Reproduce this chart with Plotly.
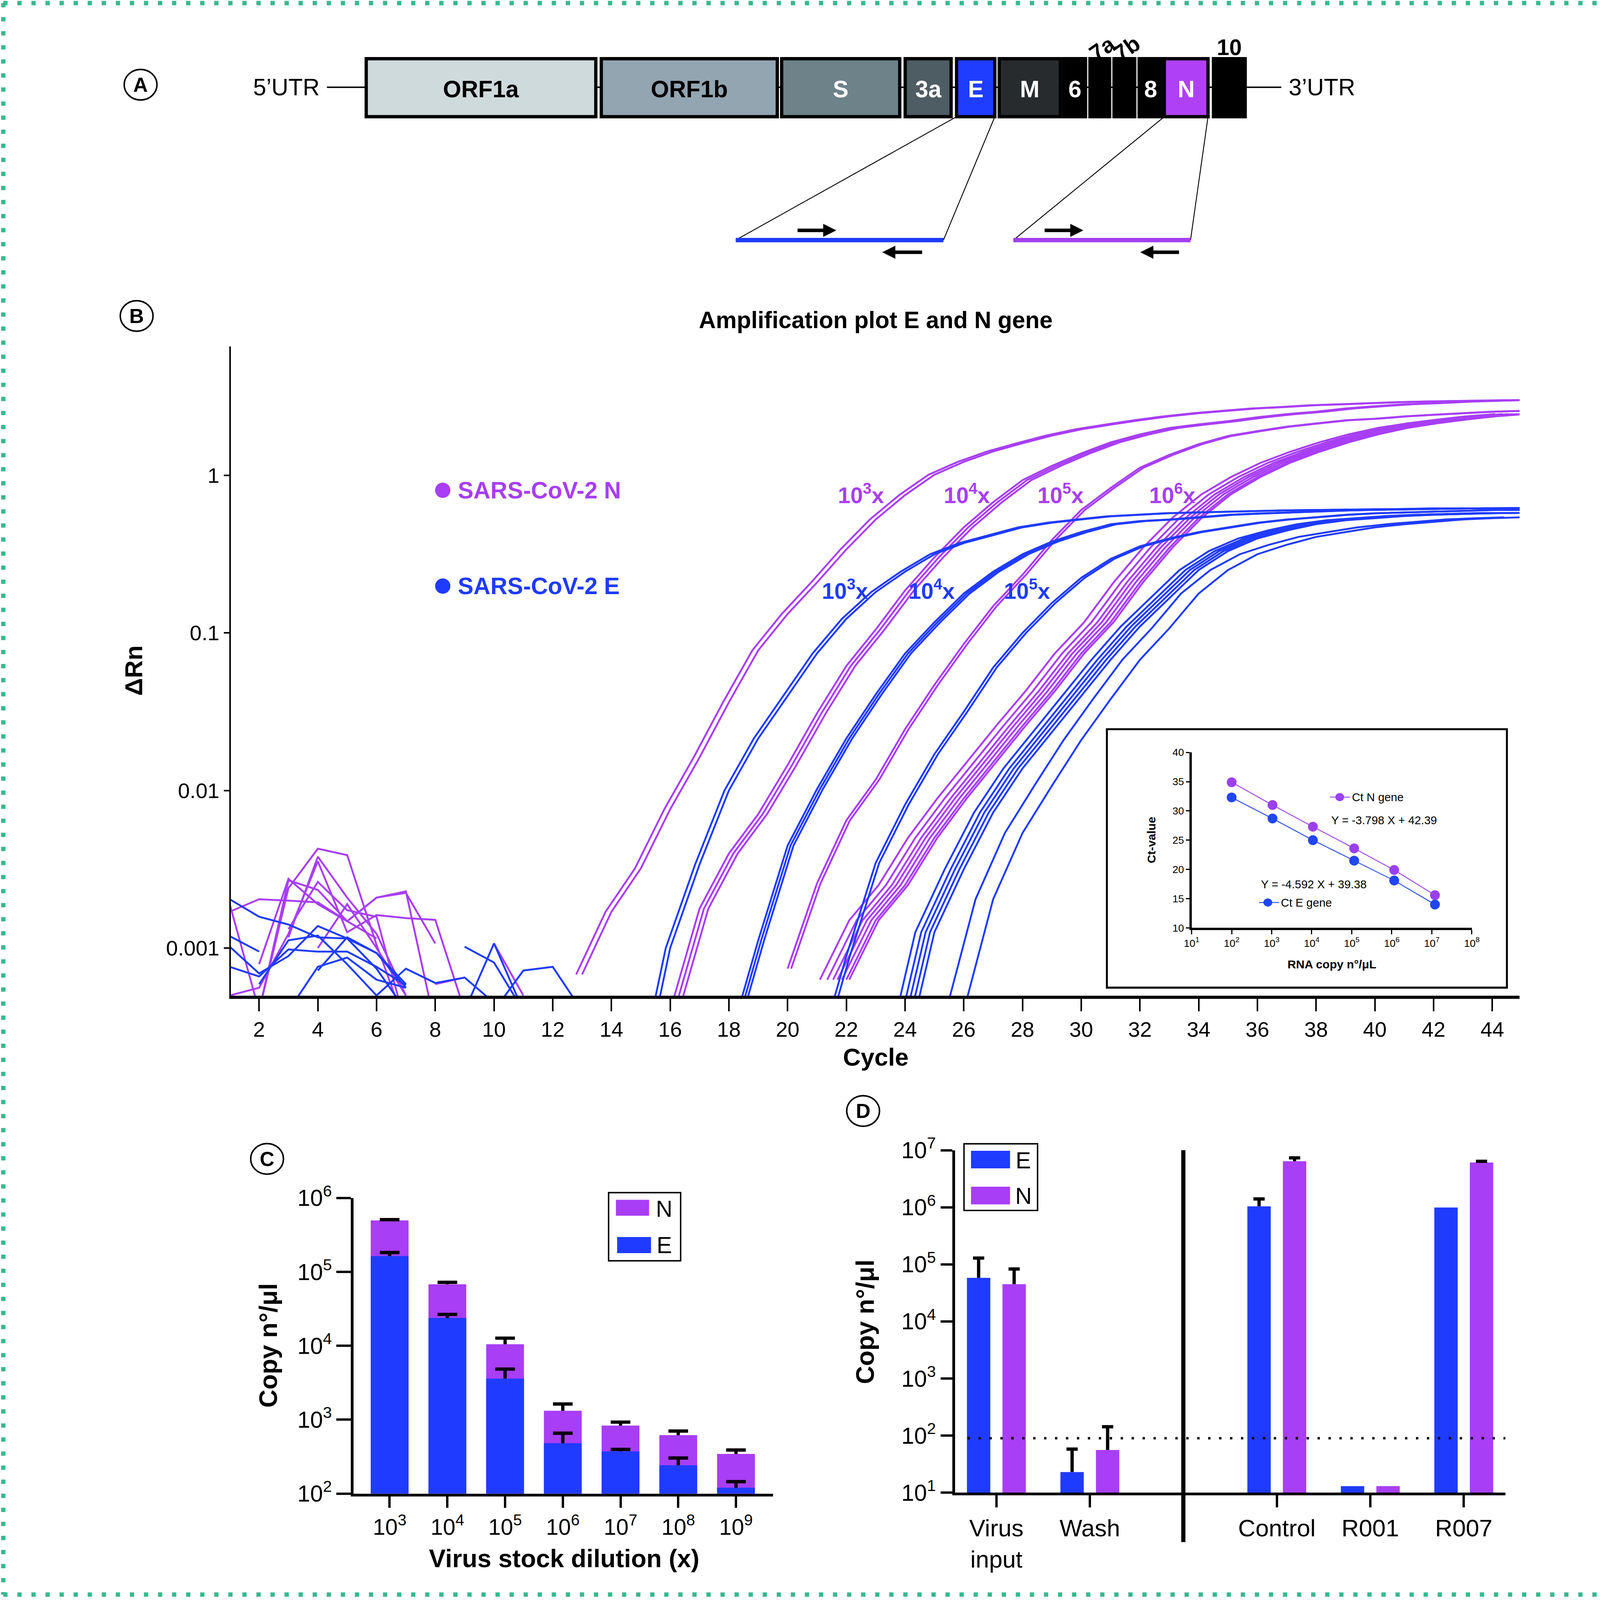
import math
import plotly.graph_objects as go

# Figure width matches the reference; the height is fitted to the visible browser viewport
W = 4198
H_FIG = 4090
K = W / 1500.0          # reference display px -> figure px (horizontal, fonts, widths)
HD = 1567.5             # reference display height in display px
KV = H_FIG / HD         # vertical display px -> figure px


def px(x):
    return x / 1500.0


def py(y):
    return 1.0 - y / HD


def s(v):
    return v * K


FONT = 'Liberation Sans'
PURPLE = '#a83ef5'
BLUE = '#1f3bff'
INSET_N = '#9b40f0'
INSET_E = '#2146f2'
GREEN = '#38b98d'

# ---------------- Panel A : genome map (schematic units) ----------------
gene_names = ['ORF1a', 'ORF1b', 'S', '3a', 'E', 'M', '6', '7a', '7b', '8', 'N', '10']
gene_start = [0.0, 21.5, 38.0, 49.3, 54.0, 57.9, 63.8, 66.2, 68.4, 70.7, 73.0, 77.5]
gene_end = [21.0, 37.6, 48.8, 53.5, 57.5, 63.5, 65.8, 68.0, 70.3, 72.8, 77.0, 80.4]
gene_fill = ['#cfdadc', '#93a5b1', '#6e828a', '#4e5c63', '#1f3dff', '#272b2d',
             '#000000', '#000000', '#000000', '#000000', '#b040f5', '#000000']
gene_label_color = ['black', 'black', 'white', 'white', 'white', 'white', 'white',
                    'black', 'black', 'white', 'white', 'black']
gene_label_above = [False, False, False, False, False, False, False, True, True, False, False, True]
genome_span = [-3.6, 83.7]
amplicon_E = [33.8, 52.8]
amplicon_N = [59.2, 75.4]
primer_E_fwd = [39.4, 43.0]
primer_E_rev = [50.9, 47.2]
primer_N_fwd = [62.0, 65.6]
primer_N_rev = [74.4, 70.8]

# ---------------- Panel B : amplification curves (ΔRn per cycle) ----------------
cycle_ticks = list(range(2, 45, 2))
rn_ticks = [0.001, 0.01, 0.1, 1]

N_1e3_start = 13
N_1e3 = [0.00068, 0.0017, 0.0032, 0.0076, 0.0162, 0.0363, 0.0776, 0.132, 0.209, 0.339, 0.525,
         0.750, 1.01, 1.22, 1.42, 1.60, 1.79, 1.96, 2.10, 2.24, 2.37, 2.48, 2.57, 2.66, 2.72,
         2.79, 2.83, 2.88, 2.92, 2.95, 2.97, 2.99, 3.01]
N_1e3_shift = [0.0, -0.2]

N_1e4_start = 16
N_1e4 = [0.0004, 0.00178, 0.00398, 0.00708, 0.0145, 0.0309, 0.0617, 0.105, 0.186, 0.302, 0.468,
         0.676, 0.933, 1.15, 1.38, 1.62, 1.82, 2.00, 2.11, 2.21, 2.34, 2.45, 2.54, 2.66, 2.75,
         2.83, 2.88, 2.94, 2.98, 3.01]
N_1e4_shift = [0.0, 0.15, 0.3]

N_1e5_start = 20
N_1e5 = [0.00074, 0.00257, 0.00646, 0.0117, 0.0245, 0.0468, 0.0851, 0.148, 0.234, 0.389, 0.603,
         0.832, 1.12, 1.35, 1.58, 1.78, 1.91, 2.04, 2.14, 2.24, 2.29, 2.37, 2.43, 2.48, 2.54, 2.57]
N_1e5_shift = [0.0, 0.12]

N_1e6_start = 22
N_1e6 = [0.00063, 0.0015, 0.00251, 0.00501, 0.00891, 0.0151, 0.0257, 0.0427, 0.0741, 0.117,
         0.209, 0.347, 0.537, 0.759, 0.977, 1.20, 1.41, 1.62, 1.82, 2.00, 2.14, 2.26, 2.37, 2.45]
N_1e6_shift = [-0.9, -0.65, -0.45, -0.3, -0.15, 0.0, 0.1]

E_1e3_start = 15
E_1e3 = [0.00013, 0.001, 0.00339, 0.01, 0.0214, 0.0398, 0.0741, 0.123, 0.182, 0.245, 0.316,
         0.372, 0.417, 0.468, 0.501, 0.525, 0.550, 0.562, 0.575, 0.582, 0.589, 0.596, 0.600,
         0.603, 0.605, 0.610, 0.612, 0.617, 0.617, 0.617, 0.617]
E_1e3_shift = [0.0, -0.15]

E_1e4_start = 18
E_1e4 = [0.00025, 0.00112, 0.00447, 0.0102, 0.0214, 0.0407, 0.0741, 0.117, 0.178, 0.245, 0.316,
         0.380, 0.437, 0.490, 0.513, 0.525, 0.543, 0.562, 0.573, 0.582, 0.592, 0.600, 0.605,
         0.610, 0.614, 0.617, 0.619, 0.621]
E_1e4_shift = [0.0, 0.1, 0.2]

E_1e5_start = 21
E_1e5 = [0.0002, 0.00089, 0.00347, 0.00813, 0.017, 0.0316, 0.0603, 0.1, 0.155, 0.224, 0.295,
         0.355, 0.398, 0.437, 0.468, 0.501, 0.525, 0.543, 0.562, 0.575, 0.582, 0.589, 0.596,
         0.603, 0.603]
E_1e5_shift = [0.0, 0.12]

E_1e6_start = 24
E_1e6 = [0.0002, 0.00126, 0.00316, 0.00724, 0.0138, 0.0234, 0.0398, 0.0676, 0.110, 0.166, 0.251,
         0.331, 0.398, 0.447, 0.490, 0.519, 0.537, 0.552, 0.562, 0.569, 0.575, 0.578]
E_1e6_shift = [-0.65, -0.45, -0.3, -0.15, 0.0]

E_1e7_start = 25
E_1e7 = [0.0001, 0.0004, 0.00204, 0.00537, 0.0107, 0.0209, 0.038, 0.0676, 0.107, 0.178, 0.251,
         0.316, 0.363, 0.407, 0.437, 0.468, 0.490, 0.507, 0.525, 0.535, 0.542]
E_1e7_shift = [-0.6, 0.0]

# baseline noise (start cycle, ΔRn values)
N_noise = [
    (1, [0.0017, 0.00204, 0.002, 0.00195, 0.00148, 0.00209, 0.00224, 0.00107]),
    (2, [0.0004, 0.0024, 0.00427, 0.00389, 0.00105, 0.00032]),
    (1, [0.0019, 0.0004, 0.00269, 0.00234, 0.00148, 0.00115]),
    (2, [0.00079, 0.00275, 0.0019, 0.00148, 0.00209, 0.00229, 0.00032]),
    (1, [0.0005, 0.00056, 0.00123, 0.00355, 0.00126, 0.00162, 0.00155, 0.00151, 0.0004]),
    (3, [0.00132, 0.00263, 0.00174, 0.00158, 0.00032]),
    (4, [0.001, 0.0019, 0.001, 0.0005]),
    (8, [0.00059, 0.00065]),
    (10, [0.00107, 0.0005]),
    (3, [0.00117, 0.0038, 0.00209, 0.00123, 0.0005]),
]
E_noise = [
    (1, [0.00204, 0.00158, 0.00141, 0.00117, 0.00115, 0.00093, 0.00059]),
    (1, [0.00119, 0.00095]),
    (1, [0.00102, 0.00069, 0.00089, 0.00138, 0.00115, 0.00074, 0.0004]),
    (1, [0.00076, 0.00066, 0.00098, 0.00095, 0.00095, 0.00076, 0.00058]),
    (2, [0.00059, 0.00112, 0.0012, 0.00079, 0.0005]),
    (4, [0.00072, 0.00117, 0.00093, 0.00056]),
    (3, [0.0004, 0.00076, 0.00087, 0.00063, 0.00056]),
    (9, [0.00102, 0.00081, 0.0004]),
    (9, [0.0004, 0.00107, 0.0004]),
    (10, [0.0004, 0.00072, 0.00076, 0.0004]),
    (6, [0.0005, 0.00074, 0.0006, 0.00065, 0.00045]),
]

# dilution labels on the curves (cycle, ΔRn)
N_label_text = ['3', '4', '5', '6']
N_label_cycle = [22.5, 26.1, 29.3, 33.1]
N_label_rn = 0.765
E_label_text = ['3', '4', '5']
E_label_cycle = [21.95, 24.9, 28.15]
E_label_rn = 0.189

# ---------------- Inset : standard curve ----------------
inset_copies = [1.0e2, 1.05e3, 1.07e4, 1.15e5, 1.15e6, 1.2e7]
ct_N = [34.9, 31.0, 27.3, 23.6, 19.9, 15.6]
ct_N_err = [0.55, 0, 0, 0, 0, 0]
ct_E = [32.3, 28.7, 25.0, 21.5, 18.1, 14.0]
ct_E_err = [0.55, 0, 0, 0, 0, 0]
inset_xticks = [10 ** k for k in range(1, 9)]
inset_yticks = [10, 15, 20, 25, 30, 35, 40]

# ---------------- Panel C : virus stock dilution ----------------
C_labels = ['10<sup>3</sup>', '10<sup>4</sup>', '10<sup>5</sup>', '10<sup>6</sup>',
            '10<sup>7</sup>', '10<sup>8</sup>', '10<sup>9</sup>']
C_pos = [0, 1, 2, 3, 4, 5, 6]
C_N = [4.98e5, 6.8e4, 1.05e4, 1320, 832, 617, 344]
C_N_err = [1.2e4, 4.3e3, 2.2e3, 310, 95, 85, 45]
C_E = [1.64e5, 2.38e4, 3.6e3, 481, 373, 242, 120]
C_E_err = [1.9e4, 2.8e3, 1.24e3, 175, 23, 61, 25]
C_yticks = [1e2, 1e3, 1e4, 1e5, 1e6]

# ---------------- Panel D : wash experiment ----------------
D_labels = ['Virus<br>input', 'Wash', 'Control', 'R001', 'R007']
D_pos = [0, 1, 3, 4, 5]
D_E = [5.8e4, 23, 1.04e6, 13, 9.9e5]
D_E_err = [7.1e4, 35, 3.6e5, 0, 0]
D_N = [4.5e4, 56, 6.4e6, 13, 6.1e6]
D_N_err = [3.8e4, 87, 9.5e5, 0, 3.0e5]
D_detection_limit = 90
D_separator = 2
D_yticks = [1e1, 1e2, 1e3, 1e4, 1e5, 1e6, 1e7]

fig = go.Figure()

# ======== Panel A traces ========
widths = [e - b for b, e in zip(gene_start, gene_end)]
fig.add_trace(go.Bar(x=widths, base=gene_start, y=[0.5] * len(gene_names), orientation='h',
                     width=1.0, marker=dict(color=gene_fill, line=dict(color='black', width=s(3))),
                     xaxis='x5', yaxis='y5', hoverinfo='skip'))
amp_y = -2.127
iE = gene_names.index('E')
iN = gene_names.index('N')
for gi, amp in ((iE, amplicon_E), (iN, amplicon_N)):
    fig.add_trace(go.Scatter(x=[gene_start[gi], amp[0], None, gene_end[gi], amp[1]],
                             y=[0, amp_y, None, 0, amp_y], mode='lines',
                             line=dict(color='black', width=s(0.8)), xaxis='x5', yaxis='y5',
                             hoverinfo='skip'))
fig.add_trace(go.Scatter(x=amplicon_E, y=[amp_y, amp_y], mode='lines',
                         line=dict(color=BLUE, width=s(4.0)), xaxis='x5', yaxis='y5'))
fig.add_trace(go.Scatter(x=amplicon_N, y=[amp_y, amp_y], mode='lines',
                         line=dict(color='#a33ef2', width=s(4.0)), xaxis='x5', yaxis='y5'))


# ======== Panel B traces ========
def add_curve(start, vals, shift, color):
    xs = [start + i + shift for i in range(len(vals))]
    fig.add_trace(go.Scatter(x=xs, y=vals, mode='lines', line=dict(color=color, width=s(1.7)),
                             xaxis='x', yaxis='y', hoverinfo='skip', connectgaps=False))


for st, vals in N_noise:
    add_curve(st, vals, 0.0, PURPLE)
for st, vals in E_noise:
    add_curve(st, vals, 0.0, BLUE)

for st, vals, shifts in ((N_1e3_start, N_1e3, N_1e3_shift), (N_1e4_start, N_1e4, N_1e4_shift),
                         (N_1e5_start, N_1e5, N_1e5_shift), (N_1e6_start, N_1e6, N_1e6_shift)):
    for sh in shifts:
        add_curve(st, vals, sh, PURPLE)
for st, vals, shifts in ((E_1e3_start, E_1e3, E_1e3_shift), (E_1e4_start, E_1e4, E_1e4_shift),
                         (E_1e5_start, E_1e5, E_1e5_shift), (E_1e6_start, E_1e6, E_1e6_shift),
                         (E_1e7_start, E_1e7, E_1e7_shift)):
    for sh in shifts:
        add_curve(st, vals, sh, BLUE)

# ======== Inset traces ========
fig.add_trace(go.Scatter(x=inset_copies, y=ct_N, mode='lines+markers',
                         line=dict(color=INSET_N, width=s(0.8)),
                         marker=dict(color=INSET_N, size=s(9)),
                         error_y=dict(type='data', array=ct_N_err, color=INSET_N,
                                      thickness=s(1.0), width=s(3)),
                         xaxis='x2', yaxis='y2'))
fig.add_trace(go.Scatter(x=inset_copies, y=ct_E, mode='lines+markers',
                         line=dict(color=INSET_E, width=s(0.8)),
                         marker=dict(color=INSET_E, size=s(9)),
                         error_y=dict(type='data', array=ct_E_err, color='#1a2a9a',
                                      thickness=s(1.0), width=s(3)),
                         xaxis='x2', yaxis='y2'))


def err_path(xs, vals, errs, half):
    X, Y = [], []
    for x, v, e in zip(xs, vals, errs):
        if e <= 0:
            continue
        X += [x, x, None, x - half, x + half, None]
        Y += [v, v + e, None, v + e, v + e, None]
    return X, Y


# ======== Panel C traces ========
fig.add_trace(go.Bar(x=C_pos, y=C_N, width=0.655, marker=dict(color=PURPLE, line=dict(width=0)),
                     xaxis='x3', yaxis='y3'))
fig.add_trace(go.Bar(x=C_pos, y=C_E, width=0.655, marker=dict(color=BLUE, line=dict(width=0)),
                     xaxis='x3', yaxis='y3'))
for vals, errs in ((C_N, C_N_err), (C_E, C_E_err)):
    ex, ey = err_path(C_pos, vals, errs, 0.17)
    fig.add_trace(go.Scatter(x=ex, y=ey, mode='lines', line=dict(color='black', width=s(3.0)),
                             xaxis='x3', yaxis='y3', hoverinfo='skip'))

# ======== Panel D traces ========
D_off = 0.19
D_w = 0.25
fig.add_trace(go.Bar(x=D_pos, y=D_E, width=D_w, offset=-D_off - D_w / 2,
                     marker=dict(color=BLUE, line=dict(width=0)), xaxis='x4', yaxis='y4'))
fig.add_trace(go.Bar(x=D_pos, y=D_N, width=D_w, offset=D_off - D_w / 2,
                     marker=dict(color=PURPLE, line=dict(width=0)), xaxis='x4', yaxis='y4'))
for vals, errs, sign in ((D_E, D_E_err, -1), (D_N, D_N_err, 1)):
    ex, ey = err_path([p + sign * D_off for p in D_pos], vals, errs, 0.06)
    fig.add_trace(go.Scatter(x=ex, y=ey, mode='lines', line=dict(color='black', width=s(3.0)),
                             xaxis='x4', yaxis='y4', hoverinfo='skip'))

# ======== Layout ========
axis_common = dict(showgrid=False, zeroline=False, linecolor='black', tickcolor='black',
                   showline=True, ticks='outside', automargin=False)

layout = dict(
    width=W, height=H_FIG, margin=dict(l=0, r=0, t=0, b=0, pad=0, autoexpand=False),
    paper_bgcolor='white', plot_bgcolor='rgba(0,0,0,0)', showlegend=False, barmode='overlay',
    autosize=False, font=dict(family=FONT, color='black'),
    title=dict(text='', automargin=False),
    xaxis=dict(domain=[px(211), px(1390)], range=[1.032, 44.93], tickvals=cycle_ticks,
               ticklen=12 * KV, tickwidth=s(1.6), linewidth=s(3), anchor='y',
               tickfont=dict(size=s(19.5)), **axis_common),
    yaxis=dict(domain=[py(977), py(340)], type='log', range=[-3.303, 0.818], tickvals=rn_ticks,
               ticktext=['0.001', '0.01', '0.1', '1'], ticklen=s(5), tickwidth=s(1.6),
               linewidth=s(1.4), anchor='x', tickfont=dict(size=s(19.5)), **axis_common),
    xaxis2=dict(domain=[px(1090), px(1346.3)], type='log', range=[1, 8], tickvals=inset_xticks,
                ticktext=['10<sup>%d</sup>' % k for k in range(1, 9)], ticklen=4 * KV,
                tickwidth=s(1.2), linewidth=s(2), anchor='y2', tickfont=dict(size=s(9.5)),
                **axis_common),
    yaxis2=dict(domain=[py(910.4), py(738.2)], range=[10, 40], tickvals=inset_yticks,
                ticklen=s(3), tickwidth=s(1.2), linewidth=s(2), anchor='x2',
                tickfont=dict(size=s(9.5)), **axis_common),
    xaxis3=dict(domain=[px(323.2), px(707)], range=[-0.629, 6.64], tickvals=C_pos,
                ticktext=C_labels, ticklen=11.5 * KV, tickwidth=s(2.2), linewidth=s(2.4),
                anchor='y3', tickfont=dict(size=s(20.5)), **axis_common),
    yaxis3=dict(domain=[py(1465.4), py(1175.4)], type='log', range=[2, 6], tickvals=C_yticks,
                ticktext=['10<sup>%d</sup>' % k for k in range(2, 7)], ticklen=s(13),
                tickwidth=s(2.2), linewidth=s(2.4), anchor='x3', tickfont=dict(size=s(21)),
                **axis_common),
    xaxis4=dict(domain=[px(873.7), px(1377)], range=[-0.441, 5.445], tickvals=D_pos,
                ticktext=D_labels, ticklen=12 * KV, tickwidth=s(2.2), linewidth=s(2.4),
                anchor='y4', tickfont=dict(size=s(22)), **axis_common),
    yaxis4=dict(domain=[py(1464.5), py(1128.5)], type='log', range=[1, 7], tickvals=D_yticks,
                ticktext=['10<sup>%d</sup>' % k for k in range(1, 8)], ticklen=s(11),
                tickwidth=s(2.2), linewidth=s(2.4), anchor='x4', tickfont=dict(size=s(21)),
                **axis_common),
    xaxis5=dict(domain=[0, 1], range=[-33.5, 116.5], visible=False, anchor='y5',
                automargin=False),
    yaxis5=dict(domain=[py(270), py(20)], range=[-2.733, 1.661], visible=False, anchor='x5',
                automargin=False),
)
fig.update_layout(**layout)

shapes = []
ann = []


def note(text, x, y, size, xref='paper', yref='paper', color='black', xanchor='center',
         angle=0):
    ann.append(dict(text=text, x=x, y=y, xref=xref, yref=yref, showarrow=False,
                    xanchor=xanchor, yanchor='middle', textangle=angle,
                    font=dict(size=size, color=color, family=FONT)))


# green dotted border
for x0, y0, x1, y1 in ((3, 3, 1497, 3), (3, 1564.5, 1497, 1564.5), (3, 3, 3, 1564.5),
                       (1497, 3, 1497, 1564.5)):
    shapes.append(dict(type='line', xref='paper', yref='paper', x0=px(x0), y0=py(y0),
                       x1=px(x1), y1=py(y1), line=dict(color=GREEN, width=s(4), dash='11px,25px')))

# panel letters
for letter, cx, cy in (('A', 128.6, 83.1), ('B', 125, 310), ('C', 244.3, 1137), ('D', 789.5, 1090)):
    r = 15
    shapes.append(dict(type='circle', xref='paper', yref='paper', x0=px(cx - r), x1=px(cx + r),
                       y0=py(cy + r), y1=py(cy - r), line=dict(color='black', width=s(1.4))))
    note('<b>%s</b>' % letter, px(cx), py(cy), s(18.5))

# Panel A backbone and labels
shapes.append(dict(type='line', xref='x5', yref='y5', x0=genome_span[0], x1=genome_span[1],
                   y0=0.508, y1=0.508, layer='below', line=dict(color='black', width=s(1.3))))
for i, name in enumerate(gene_names):
    cx = (gene_start[i] + gene_end[i]) / 2.0
    if gene_label_above[i]:
        if name == '10':
            note('<b>10</b>', cx, 1.2, s(20.5), 'x5', 'y5')
        else:
            note('<b>%s</b>' % name, cx + 0.2, 1.18, s(20.5), 'x5', 'y5', angle=-35)
    else:
        note('<b>%s</b>' % name, cx, 0.47, s(21.5), 'x5', 'y5', color=gene_label_color[i])
note('5’UTR', genome_span[0] - 0.6, 0.508, s(21.5), 'x5', 'y5', xanchor='right')
note('3’UTR', genome_span[1] + 0.6, 0.508, s(21.5), 'x5', 'y5', xanchor='left')
for pr, yv in ((primer_E_fwd, -1.96), (primer_E_rev, -2.337), (primer_N_fwd, -1.96),
               (primer_N_rev, -2.337)):
    ann.append(dict(text='', x=pr[1], y=yv, ax=pr[0], ay=yv, xref='x5', yref='y5', axref='x5',
                    ayref='y5', showarrow=True, arrowhead=2, arrowsize=0.75, arrowwidth=s(3.2),
                    arrowcolor='black', standoff=0, startstandoff=0))

# Panel B texts
note('<b>Amplification plot E and N gene</b>', px(801), py(314), s(21.5))
note('<b>Cycle</b>', px(801), py(1037), s(22.5))
note('<b>ΔRn</b>', px(122), py(658), s(22.5), angle=-90)
for txt, col, yy in (('SARS-CoV-2 N', PURPLE, 481), ('SARS-CoV-2 E', BLUE, 575)):
    shapes.append(dict(type='circle', xref='paper', yref='paper', x0=px(398), x1=px(412),
                       y0=py(yy + 7.5), y1=py(yy - 7.5), fillcolor=col, line=dict(width=0)))
    note('<b>%s</b>' % txt, px(418), py(yy), s(21.5), color=col, xanchor='left')
for t, c in zip(N_label_text, N_label_cycle):
    note('<b>10<sup>%s</sup>x</b>' % t, c, math.log10(N_label_rn), s(20.5), 'x', 'y', color=PURPLE)
for t, c in zip(E_label_text, E_label_cycle):
    note('<b>10<sup>%s</sup>x</b>' % t, c, math.log10(E_label_rn), s(20.5), 'x', 'y', color=BLUE)

# Inset frame and texts
shapes.append(dict(type='rect', xref='paper', yref='paper', x0=px(1012.5), x1=px(1378.4),
                   y0=py(969), y1=py(715.4), line=dict(color='black', width=s(1.8))))
for txt, lx0, lx1, mx, ly, col in (('Ct N gene', 1216.5, 1234.9, 1225.5, 782.1, INSET_N),
                                   ('Ct E gene', 1151.6, 1169.9, 1159.7, 885.5, INSET_E)):
    shapes.append(dict(type='line', xref='paper', yref='paper', x0=px(lx0), x1=px(lx1),
                       y0=py(ly), y1=py(ly), line=dict(color=col, width=s(0.8))))
    shapes.append(dict(type='circle', xref='paper', yref='paper', x0=px(mx - 4), x1=px(mx + 4),
                       y0=py(ly + 4), y1=py(ly - 4), fillcolor=col, line=dict(width=0)))
    note(txt, px(lx1 + 1), py(ly), s(10.5), xanchor='left')
note('Y = -3.798 X + 42.39', px(1266), py(804.6), s(10.5))
note('Y = -4.592 X + 39.38', px(1202), py(867.4), s(10.5))
note('<b>Ct-value</b>', px(1053), py(824), s(10.8), angle=-90)
note('<b>RNA copy n°/μL</b>', px(1218.5), py(946.2), s(10.8))

# Panel C texts + legend
note('<b>Copy n°/μl</b>', px(245.7), py(1320), s(23), angle=-90)
note('<b>Virus stock dilution (x)</b>', px(516), py(1529), s(23))
shapes.append(dict(type='rect', xref='paper', yref='paper', x0=px(556.7), x1=px(622.6),
                   y0=py(1237), y1=py(1170.1), line=dict(color='black', width=s(1.3))))
shapes.append(dict(type='rect', xref='paper', yref='paper', x0=px(563.4), x1=px(593.7),
                   y0=py(1192.8), y1=py(1177.2), fillcolor=PURPLE, line=dict(width=0)))
shapes.append(dict(type='rect', xref='paper', yref='paper', x0=px(564.5), x1=px(595.5),
                   y0=py(1229.5), y1=py(1213.7), fillcolor=BLUE, line=dict(width=0)))
note('N', px(607.6), py(1186), s(21))
note('E', px(607.6), py(1221.5), s(21))

# Panel D texts, legend, threshold and separator
note('<b>Copy n°/μl</b>', px(791.5), py(1297), s(23), angle=-90)
shapes.append(dict(type='rect', xref='paper', yref='paper', x0=px(881.8), x1=px(949.1),
                   y0=py(1187.6), y1=py(1122.2), line=dict(color='black', width=s(1.3))))
shapes.append(dict(type='rect', xref='paper', yref='paper', x0=px(888.2), x1=px(923.9),
                   y0=py(1146.3), y1=py(1129.1), fillcolor=BLUE, line=dict(width=0)))
shapes.append(dict(type='rect', xref='paper', yref='paper', x0=px(888.2), x1=px(923.9),
                   y0=py(1181.7), y1=py(1164.3), fillcolor=PURPLE, line=dict(width=0)))
note('E', px(936), py(1138.5), s(21))
note('N', px(936), py(1173.5), s(21))
shapes.append(dict(type='line', xref='x4 domain', yref='y4', x0=0.0225, x1=1.0,
                   y0=D_detection_limit, y1=D_detection_limit,
                   line=dict(color='black', width=s(2.2), dash='6px,22px')))
shapes.append(dict(type='line', xref='x4', yref='paper', x0=D_separator, x1=D_separator,
                   y0=py(1513), y1=py(1128.5), line=dict(color='black', width=s(3.8))))

fig.update_layout(shapes=shapes, annotations=ann)
fig.write_html('out.html', config={'responsive': False, 'displayModeBar': False},
               post_script="document.body.style.margin='0px';document.body.style.padding='0px';"
                           "document.body.style.overflow='hidden';")
